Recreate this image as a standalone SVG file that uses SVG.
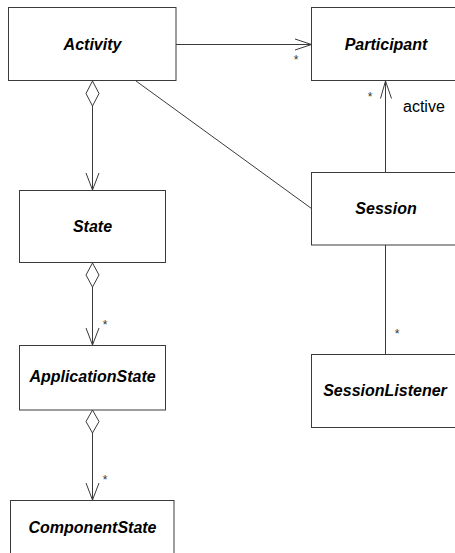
<svg xmlns="http://www.w3.org/2000/svg" width="455" height="553" viewBox="0 0 455 553">
<style>
.box{fill:#fff;stroke:#3a3a3a;stroke-width:1}
.name{font-family:"Liberation Sans",Arial,sans-serif;font-size:16px;font-weight:bold;font-style:italic;fill:#000;text-anchor:middle}
.ln{fill:none;stroke:#3a3a3a;stroke-width:1}
.dia{fill:#fff;stroke:#3a3a3a;stroke-width:1}
.lbl{font-family:"Liberation Sans",Arial,sans-serif;font-size:16px;fill:#000}
.star{font-family:"Liberation Sans",Arial,sans-serif;font-size:12px;fill:#333;text-anchor:middle}
</style>
<rect width="455" height="553" fill="#fff"/>
<g id="connectors">
<line class="ln" x1="176" y1="44.5" x2="311.5" y2="44.5"/>
<polyline class="ln" points="295,39 311.5,44.5 295,50"/>
<text class="star" x="296" y="64">*</text>
<line class="ln" x1="92.5" y1="106" x2="92.5" y2="190"/>
<polyline class="ln" points="86,173 92.5,190 99,173"/>
<polygon class="dia" points="92.5,81 99,93.5 92.5,106 86,93.5"/>
<line class="ln" x1="92.5" y1="287" x2="92.5" y2="345"/>
<polyline class="ln" points="86,328 92.5,345 99,328"/>
<polygon class="dia" points="92.5,263 99,275 92.5,287 86,275"/>
<text class="star" x="105" y="329">*</text>
<line class="ln" x1="92.5" y1="433" x2="92.5" y2="500"/>
<polyline class="ln" points="86,483 92.5,500 99,483"/>
<polygon class="dia" points="92.5,410 99,421.5 92.5,433 86,421.5"/>
<text class="star" x="105" y="484">*</text>
<line class="ln" x1="136" y1="81" x2="311.5" y2="208.5"/>
<line class="ln" x1="385.5" y1="172" x2="385.5" y2="81"/>
<polyline class="ln" points="380.5,98.5 385.5,81 391.5,98.5"/>
<text class="star" x="370" y="101">*</text>
<text class="lbl" x="403" y="112">active</text>
<line class="ln" x1="385.5" y1="245" x2="385.5" y2="354"/>
<text class="star" x="397" y="338">*</text>
</g>
<g id="activity"><rect class="box" x="8.5" y="7.5" width="167.5" height="73"/><text class="name" x="92.5" y="50">Activity</text></g>
<g id="participant"><rect class="box" x="311.5" y="7.5" width="150" height="73"/><text class="name" x="386" y="50">Participant</text></g>
<g id="state"><rect class="box" x="19.5" y="190.5" width="146" height="72"/><text class="name" x="92.5" y="231.5">State</text></g>
<g id="session"><rect class="box" x="311.5" y="172.5" width="150" height="72.5"/><text class="name" x="386" y="213.5">Session</text></g>
<g id="applicationstate"><rect class="box" x="19.5" y="345.5" width="146" height="64.5"/><text class="name" x="92.5" y="382">ApplicationState</text></g>
<g id="sessionlistener"><rect class="box" x="311.5" y="354.5" width="150" height="73"/><text class="name" x="385" y="395.5">SessionListener</text></g>
<g id="componentstate"><rect class="box" x="10.5" y="500.5" width="163.5" height="70"/><text class="name" x="92.5" y="533">ComponentState</text></g>
</svg>
